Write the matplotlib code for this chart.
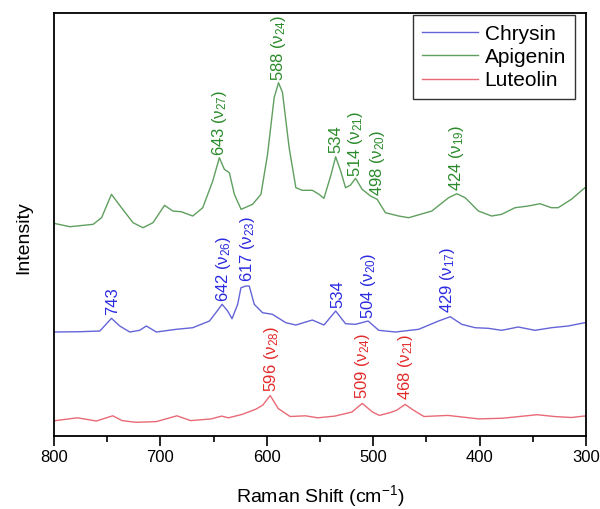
import matplotlib
matplotlib.use("Agg")
import matplotlib.pyplot as plt

plt.rcParams['font.family'] = ['Liberation Sans', 'DejaVu Sans']
plt.rcParams['mathtext.fontset'] = 'custom'
plt.rcParams['mathtext.rm'] = 'Liberation Sans'
plt.rcParams['mathtext.it'] = 'Liberation Sans:italic'

# ---- data (Raman shift in cm-1, intensity in arb. units) ----
apigenin_x = [800, 785.0, 763.2, 755.3, 746.0, 736.6, 725.7, 716.4, 707.0, 696.1, 688.3, 680.4,
              669.6, 660.2, 650.8, 644.6, 639.9, 635.2, 630.5, 624.2, 613.4, 605.5, 599.3, 593.1,
              589.0, 585.3, 579.0, 572.7, 566.6, 557.2, 550.9, 546.3, 540.0, 535.3, 530.6, 526.0,
              521.3, 516.6, 510.4, 502.5, 496.3, 488.5, 476.0, 466.7, 444.9, 429.2, 421.4, 413.6,
              401.1, 388.7, 379.3, 366.8, 354.3, 343.3, 332.5, 326.2, 313.8, 302.8, 300]
apigenin_y = [212.7, 209.3, 211.7, 218.3, 241.7, 228.3, 213.3, 208.3, 213.3, 230.7, 225, 224.3,
              220, 228.3, 255, 278.3, 266.7, 263.3, 241.7, 226.7, 231.7, 241.7, 281.7, 338.3,
              353.3, 343.7, 288.3, 248.3, 245.7, 245.7, 241.7, 237.7, 260, 279.3, 265, 248.3,
              251, 257.7, 246.7, 240, 236.7, 223.3, 220, 218.3, 225, 238.3, 242.3, 238.3,
              225, 220, 221.7, 228.3, 230, 232.3, 228.3, 228.3, 236.7, 246.7, 249]

chrysin_x = [800, 775.7, 756.9, 746.0, 738.2, 728.8, 719.5, 713.2, 703.8, 685.1, 669.6, 653.9,
             646.2, 642.0, 636.8, 632.7, 627.4, 624.3, 619.6, 616.5, 611.8, 604.0, 594.7, 582.1,
             572.7, 557.2, 546.3, 535.3, 526.0, 516.6, 504.8, 494.8, 479.1, 457.3, 438.6, 427.6,
             416.8, 404.2, 391.8, 379.3, 363.7, 348.0, 332.5, 316.9, 301.2, 300]
chrysin_y = [104, 104.3, 105, 117.7, 110, 104, 105.7, 110, 104, 106.7, 108.3, 115,
             125.7, 131.7, 125, 117.3, 131.7, 148.3, 150, 150, 131.7, 123.3, 121.7, 113.3,
             111, 116, 111, 125, 112.3, 111.7, 115, 105.7, 104, 106.7, 115, 119.3,
             111.7, 108.3, 107.7, 105.7, 109, 105.7, 108.3, 110, 113.3, 113.5]

luteolin_x = [800, 778.0, 760.2, 744.8, 736.0, 723.1, 703.8, 684.5, 671.5, 652.2, 642.5, 636.1,
              623.2, 610.3, 603.8, 596.8, 589.3, 578.1, 563.6, 552.2, 536.1, 520.0, 510.3, 500.7,
              494.2, 484.5, 478.1, 470.0, 462.0, 452.3, 429.8, 400.7, 378.2, 346.0, 329.8, 313.7,
              302.3, 300]
luteolin_y = [15.2, 18.2, 15, 20.2, 15.4, 13.7, 14.4, 20.2, 15.4, 17.1, 19.9, 18.2,
              21.6, 26.8, 30.9, 40.5, 27.5, 19.5, 20.2, 18.2, 19.9, 24, 32.6, 24,
              20.6, 23.3, 25.7, 31.6, 25.7, 19.5, 20.6, 17.1, 17.8, 21.3, 19.5, 18.5,
              19.9, 20]

series_names = ['Chrysin', 'Apigenin', 'Luteolin']

# peak labels: (text, shift, label base intensity)
apigenin_labels = [('643 (ν$_{27}$)', 644.6, 280), ('588 (ν$_{24}$)', 589.0, 355),
                   ('534', 535.3, 283), ('514 (ν$_{21}$)', 516.6, 259),
                   ('498 (ν$_{20}$)', 496.3, 240), ('424 (ν$_{19}$)', 421.4, 245)]
chrysin_labels = [('743', 744.5, 121), ('642 (ν$_{26}$)', 641.0, 134),
                  ('617 (ν$_{23}$)', 618.0, 154), ('534', 533.0, 128),
                  ('504 (ν$_{20}$)', 504.5, 117), ('429 (ν$_{17}$)', 430.0, 123)]
luteolin_labels = [('596 (ν$_{28}$)', 596.0, 44), ('509 (ν$_{24}$)', 510.0, 37),
                   ('468 (ν$_{21}$)', 470.0, 36)]

xticks = [800, 700, 600, 500, 400, 300]

# ---- styling ----
line_colors = {'Chrysin': '#6464d8', 'Apigenin': '#5f9f5f', 'Luteolin': '#e86a76'}
text_colors = {'Chrysin': '#2a2ae0', 'Apigenin': '#2a8a2a', 'Luteolin': '#e42a2a'}

fig = plt.figure(figsize=(6.0, 5.09), dpi=100)
ax = fig.add_axes([0.09, 0.1434, 0.8867, 0.831])

data = {'Chrysin': (chrysin_x, chrysin_y, chrysin_labels),
        'Apigenin': (apigenin_x, apigenin_y, apigenin_labels),
        'Luteolin': (luteolin_x, luteolin_y, luteolin_labels)}

for name in series_names:
    xs, ys, labels = data[name]
    ax.plot(xs, ys, color=line_colors[name], lw=1.0, label=name)
    for txt, px, py in labels:
        ax.text(px, py, txt, rotation=90, ha='center', va='bottom',
                color=text_colors[name], fontsize=12)

ax.set_xlim(800, 300)
ax.set_ylim(0, 423)
ax.set_xticks(xticks)
ax.set_xticks([750, 650, 550, 450, 350], minor=True)
ax.set_yticks([])
ax.tick_params(axis='x', which='major', direction='out', length=7, width=1.2, labelsize=12, pad=3)
ax.tick_params(axis='x', which='minor', direction='out', length=4, width=1.2)
for sp in ax.spines.values():
    sp.set_linewidth(1.3)

ax.set_xlabel('Raman Shift (cm$^{-1}$)', fontsize=14)
ax.set_ylabel('Intensity', fontsize=14)
ax.xaxis.set_label_coords(0.5, -0.112)
ax.yaxis.set_label_coords(-0.04, 0.47)

leg = ax.legend(loc='upper right', fontsize=15, frameon=True, fancybox=False,
                edgecolor='black', handlelength=2.7, labelspacing=0.2,
                borderpad=0.45, handletextpad=0.3, borderaxespad=0.0,
                bbox_to_anchor=(0.98, 0.995))
leg.get_frame().set_linewidth(1.0)

fig.savefig('out.png', dpi=100)
